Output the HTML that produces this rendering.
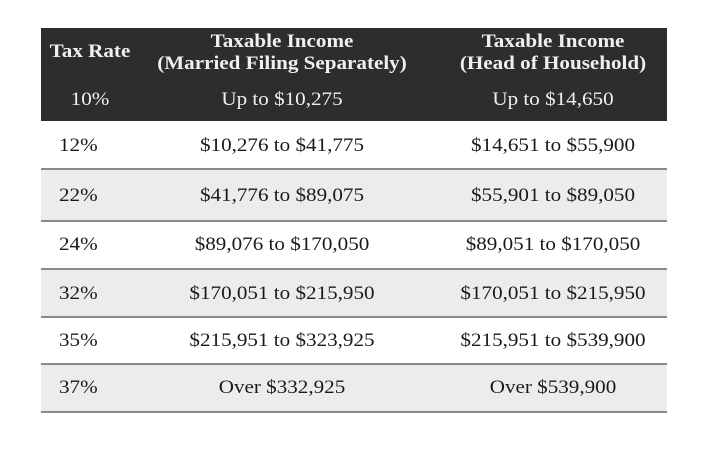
<!DOCTYPE html>
<html><head><style>
body{margin:0;width:720px;height:472px;background:#fff;position:relative;font-family:"Liberation Serif",serif;overflow:hidden}
.h{position:absolute;left:41px;top:28px;width:626px;height:93px;background:#2d2d2d}
.r{position:absolute;left:41px;width:626px;border-bottom:2px solid #8a8a8a;box-sizing:border-box}
.t{position:absolute;font-size:19px;line-height:20px;white-space:nowrap;color:#1a1a1a;transform:scaleX(1.11);transform-origin:left center}
.c{transform:translateX(-50%) scaleX(1.11);transform-origin:center center;text-align:center}
.w{color:#f0f0f0}
.b{font-weight:bold}
</style></head><body>
<div class="h"></div>
<div class="r" style="top:121px;height:49px;background:#fff"></div>
<div class="r" style="top:170px;height:52px;background:#ececec"></div>
<div class="r" style="top:222px;height:48px;background:#fff"></div>
<div class="r" style="top:270px;height:48px;background:#ececec"></div>
<div class="r" style="top:318px;height:47px;background:#fff"></div>
<div class="r" style="top:365px;height:48px;background:#ececec"></div>

<div class="t w b c" style="left:90px;top:42px">Tax Rate</div>
<div class="t w b c" style="left:282px;top:32px">Taxable Income</div>
<div class="t w b c" style="left:282px;top:54px">(Married Filing Separately)</div>
<div class="t w b c" style="left:553px;top:32px">Taxable Income</div>
<div class="t w b c" style="left:553px;top:54px">(Head of Household)</div>
<div class="t w c" style="left:90px;top:90px">10%</div>
<div class="t w c" style="left:282px;top:90px">Up to $10,275</div>
<div class="t w c" style="left:553px;top:90px">Up to $14,650</div>

<div class="t" style="left:59px;top:136px">12%</div>
<div class="t c" style="left:282px;top:136px">$10,276 to $41,775</div>
<div class="t c" style="left:553px;top:136px">$14,651 to $55,900</div>
<div class="t" style="left:59px;top:186px">22%</div>
<div class="t c" style="left:282px;top:186px">$41,776 to $89,075</div>
<div class="t c" style="left:553px;top:186px">$55,901 to $89,050</div>
<div class="t" style="left:59px;top:235px">24%</div>
<div class="t c" style="left:282px;top:235px">$89,076 to $170,050</div>
<div class="t c" style="left:553px;top:235px">$89,051 to $170,050</div>
<div class="t" style="left:59px;top:284px">32%</div>
<div class="t c" style="left:282px;top:284px">$170,051 to $215,950</div>
<div class="t c" style="left:553px;top:284px">$170,051 to $215,950</div>
<div class="t" style="left:59px;top:331px">35%</div>
<div class="t c" style="left:282px;top:331px">$215,951 to $323,925</div>
<div class="t c" style="left:553px;top:331px">$215,951 to $539,900</div>
<div class="t" style="left:59px;top:378px">37%</div>
<div class="t c" style="left:282px;top:378px">Over $332,925</div>
<div class="t c" style="left:553px;top:378px">Over $539,900</div>
</body></html>
